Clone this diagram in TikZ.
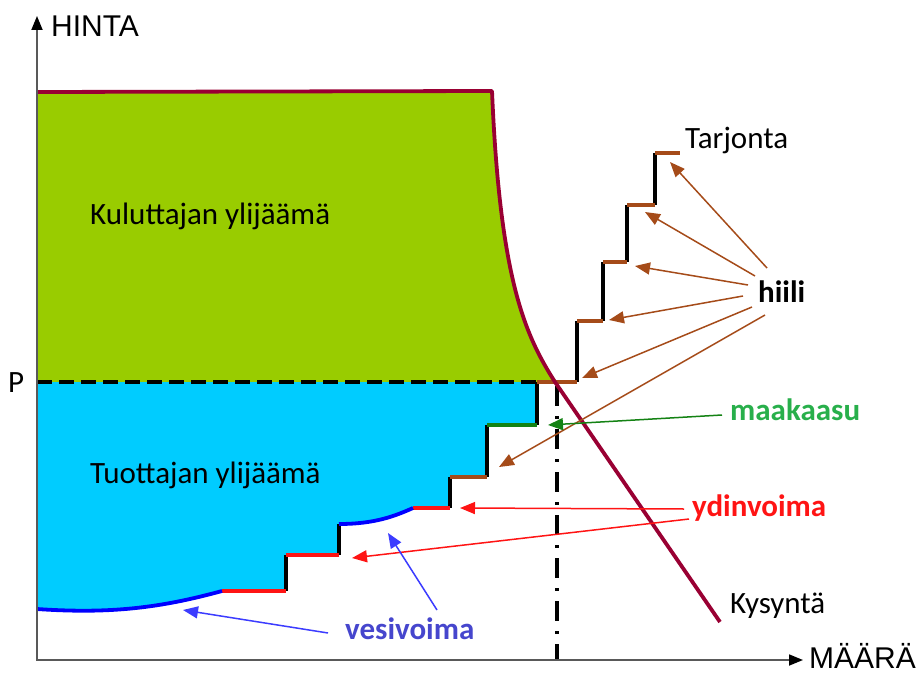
\documentclass[tikz,border=0pt]{standalone}
\usepackage{fontspec}
\setmainfont{Carlito}
\newfontfamily\axisfont{Liberation Sans}
\usetikzlibrary{arrows.meta}
\definecolor{demand}{RGB}{153,0,51}
\definecolor{cgreen}{RGB}{153,204,0}
\definecolor{cblue}{RGB}{0,204,255}
\definecolor{coal}{RGB}{165,75,25}
\definecolor{gastext}{RGB}{40,175,75}
\definecolor{gasline}{RGB}{20,130,20}
\definecolor{nuc}{RGB}{255,20,20}
\definecolor{hydtext}{RGB}{70,70,205}
\definecolor{hydline}{RGB}{0,0,255}
\definecolor{hydarrow}{RGB}{60,60,255}
\begin{document}
\begin{tikzpicture}[x=1pt,y=-1pt,
  lbl/.style={inner sep=0pt, anchor=base west, font=\fontsize{31}{31}\selectfont},
  blbl/.style={inner sep=0pt, anchor=base west, font=\fontsize{31}{31}\selectfont\bfseries},
  axlbl/.style={inner sep=0pt, anchor=base west, font=\axisfont\fontsize{30}{30}\selectfont},
  stepv/.style={line width=3.8pt, black, line cap=square},
  steph/.style={line width=3.8pt},
  ptr/.style={line width=1.5pt, -{Triangle[length=15pt,width=12pt]}},
  axis/.style={line width=1.8pt, black!65, -{Triangle[length=14pt,width=11pt,color=black]}},
]
\useasboundingbox (0,0) rectangle (918,674);
% key coordinates
\coordinate (o) at (37,660);
\coordinate (ytop) at (37,16);
\coordinate (xend) at (803,660);
\coordinate (pL) at (37,382);
\coordinate (pR) at (537,382);
\coordinate (dTop) at (37,92);
\coordinate (dK) at (492,91);
\coordinate (dP) at (555,382);
\coordinate (dEnd) at (720,622);
% fills
\fill[cgreen] (dTop) -- (dK) .. controls (500,280) and (525,335) .. (dP) -- (pL) -- cycle;
\fill[cblue] (pL) -- (537,382) -- (537,425) -- (487,425) -- (487,477) -- (450,477) -- (450,508) -- (413,508)
  .. controls (395,516) and (375,524) .. (339,524) -- (339,555) -- (286,555) -- (286,591) -- (222,591)
  .. controls (160,608) and (110,614) .. (37,609) -- cycle;
% price line
\draw[line width=3.5pt, dash pattern=on 15pt off 7pt] (pL) -- (pR);
% vertical equilibrium line
\coordinate (qTop) at (557,386);
\coordinate (qBot) at (557,660);
\draw[line width=3.5pt, dash pattern=on 20pt off 10pt on 3pt off 10pt] (qTop) -- (qBot);
% steps: verticals
\draw[stepv] (577,382) -- (577,321);
\draw[stepv] (603,321) -- (603,262);
\draw[stepv] (627,262) -- (627,205);
\draw[stepv] (655,205) -- (655,153);
\draw[stepv] (537,382) -- (537,425);
\draw[stepv] (487,425) -- (487,477);
\draw[stepv] (450,477) -- (450,508);
\draw[stepv] (339,524) -- (339,555);
\draw[stepv] (286,555) -- (286,591);
% steps: horizontals
\draw[steph, coal] (537,382) -- (577,382);
\draw[steph, coal] (577,321) -- (603,321);
\draw[steph, coal] (603,262) -- (627,262);
\draw[steph, coal] (627,205) -- (655,205);
\draw[steph, coal] (655,153) -- (680,153);
\draw[steph, coal] (450,477) -- (487,477);
\draw[steph, gasline] (487,425) -- (537,425);
\draw[steph, nuc] (413,508) -- (450,508);
\draw[steph, nuc] (286,555) -- (339,555);
\draw[steph, nuc] (222,591) -- (286,591);
\draw[steph, hydline] (413,508) .. controls (395,516) and (375,524) .. (339,524);
\draw[steph, hydline] (222,591) .. controls (160,608) and (110,614) .. (37,609);
% demand curve
\draw[demand, line width=3.8pt, line join=round] (dTop) -- (dK) .. controls (500,280) and (525,335) .. (dP) -- (dEnd);
% axes
\draw[axis] (o) -- (ytop);
\draw[axis] (36,660) -- (xend);
% labels
\node[axlbl] (hinta) at (51,37) {HINTA};
\node[axlbl] (maara) at (809,668) {MÄÄRÄ};
\node[lbl] (p) at (8,392) {P};
\node[lbl] (kul) at (90,224) {Kuluttajan ylijäämä};
\node[lbl] (tuo) at (90,483) {Tuottajan ylijäämä};
\node[lbl] (tarj) at (685,149) {Tarjonta};
\node[lbl] (kys) at (730,613) {Kysyntä};
\node[blbl] (hiili) at (758,302) {hiili};
\node[blbl, text=gastext] (maak) at (730,420) {maakaasu};
\node[blbl, text=nuc] (ydin) at (692,516) {ydinvoima};
\node[blbl, text=hydtext] (vesi) at (345,639) {vesivoima};
% arrow endpoints
\coordinate (h1s) at (767,268); \coordinate (h1e) at (670,162);
\coordinate (h2s) at (755,276); \coordinate (h2e) at (645,212);
\coordinate (h3s) at (748,285); \coordinate (h3e) at (635,266);
\coordinate (h4s) at (743,296); \coordinate (h4e) at (609,320);
\coordinate (h5s) at (752,307); \coordinate (h5e) at (582,378);
\coordinate (h6s) at (765,315); \coordinate (h6e) at (499,467);
\coordinate (gs) at (722,415); \coordinate (ge) at (548,425);
\coordinate (n1s) at (684,509); \coordinate (n1e) at (460,508);
\coordinate (n2s) at (689,519); \coordinate (n2e) at (352,558);
\coordinate (w1s) at (328,633); \coordinate (w1e) at (183,610);
\coordinate (w2s) at (437,610); \coordinate (w2e) at (388,533);
\draw[ptr, coal] (h1s) -- (h1e);
\draw[ptr, coal] (h2s) -- (h2e);
\draw[ptr, coal] (h3s) -- (h3e);
\draw[ptr, coal] (h4s) -- (h4e);
\draw[ptr, coal] (h5s) -- (h5e);
\draw[ptr, coal] (h6s) -- (h6e);
\draw[ptr, gasline] (gs) -- (ge);
\draw[ptr, nuc] (n1s) -- (n1e);
\draw[ptr, nuc] (n2s) -- (n2e);
\draw[ptr, hydarrow] (w1s) -- (w1e);
\draw[ptr, hydarrow] (w2s) -- (w2e);
\end{tikzpicture}
\end{document}
